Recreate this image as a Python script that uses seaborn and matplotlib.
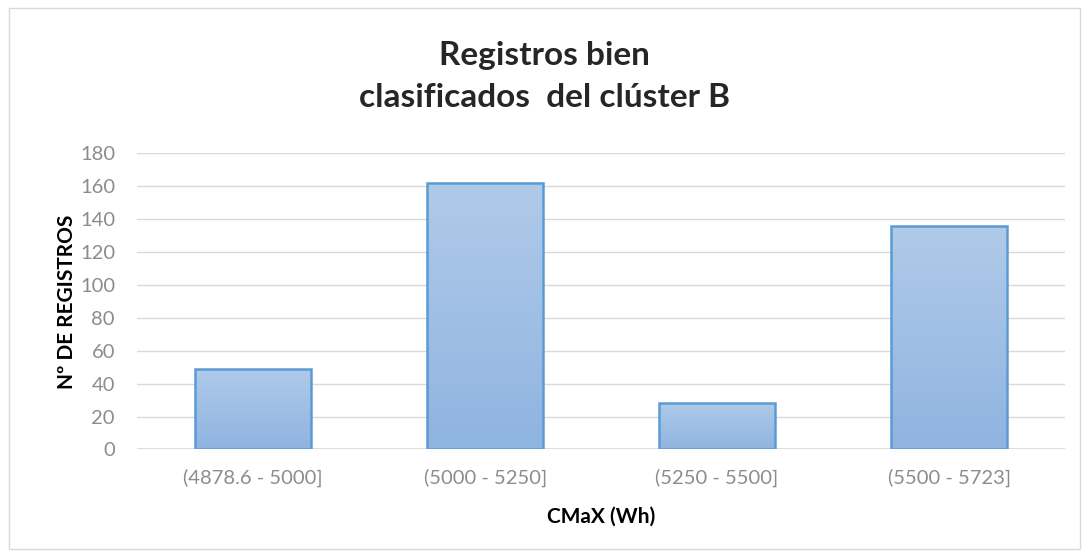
import matplotlib
matplotlib.use("Agg")
import matplotlib.pyplot as plt
import seaborn as sns
import numpy as np
import pandas as pd
from matplotlib.colors import LinearSegmentedColormap

categories = ['(4878.6 - 5000]', '(5000 - 5250]', '(5250 - 5500]', '(5500 - 5723]']
counts = [49, 162, 28, 136]
title = 'Registros bien\nclasificados  del clúster B'
xlabel = 'CMaX (Wh)'
ylabel = 'Nº DE REGISTROS'
yticks = list(range(0, 181, 20))

df = pd.DataFrame({'rango': categories, 'registros': counts})

sns.set_style("white")
plt.rcParams['font.family'] = ['Lato', 'DejaVu Sans']

fig = plt.figure(figsize=(10.89, 5.57), dpi=100)
ax = fig.add_axes([0.126, 0.193, 0.852, 0.532])

sns.barplot(data=df, x='rango', y='registros', ax=ax, width=0.5,
            color='#a6c3e6', edgecolor='#5b9bd5', linewidth=1.8, saturation=1)

# vertical gradient inside each bar
grad = LinearSegmentedColormap.from_list('g', ['#8fb4e0', '#b0cae9'])
gimg = np.linspace(0, 1, 256).reshape(-1, 1)
for p in ax.patches:
    x0, y0 = p.get_x(), p.get_y()
    w, h = p.get_width(), p.get_height()
    im = ax.imshow(gimg, cmap=grad, aspect='auto', origin='lower',
                   extent=[x0, x0 + w, y0, y0 + h], zorder=p.get_zorder())
    im.set_clip_path(p)
    p.set_facecolor('none')
    p.set_zorder(p.get_zorder() + 0.5)

ax.set_xlim(-0.5, 3.5)
ax.set_ylim(0, 180)
ax.set_yticks(yticks)
ax.yaxis.grid(True, color='#d9d9d9', linewidth=1)
ax.set_axisbelow(True)
for s in ax.spines.values():
    s.set_visible(False)
ax.axhline(0, color='#d9d9d9', linewidth=1.2, zorder=0.5)
ax.tick_params(axis='both', length=0, colors='#8c8c8c', labelsize=14.5)
ax.tick_params(axis='x', pad=14)
ax.tick_params(axis='y', pad=16)
ax.set_xlabel(xlabel, fontsize=15, fontweight='bold', color='black', labelpad=14)
ax.set_ylabel(ylabel, fontsize=15, fontweight='bold', color='black', labelpad=2)

fig.text(0.5, 0.862, title, ha='center', va='center', fontsize=24,
         fontweight='bold', linespacing=1.55)

# chart border like the spreadsheet frame
fig.patches.append(plt.Rectangle((0.008, 0.014), 0.984, 0.972, transform=fig.transFigure,
                                 fill=False, edgecolor='#d9d9d9', linewidth=1))

plt.savefig('out.png', dpi=100)
plt.close()
